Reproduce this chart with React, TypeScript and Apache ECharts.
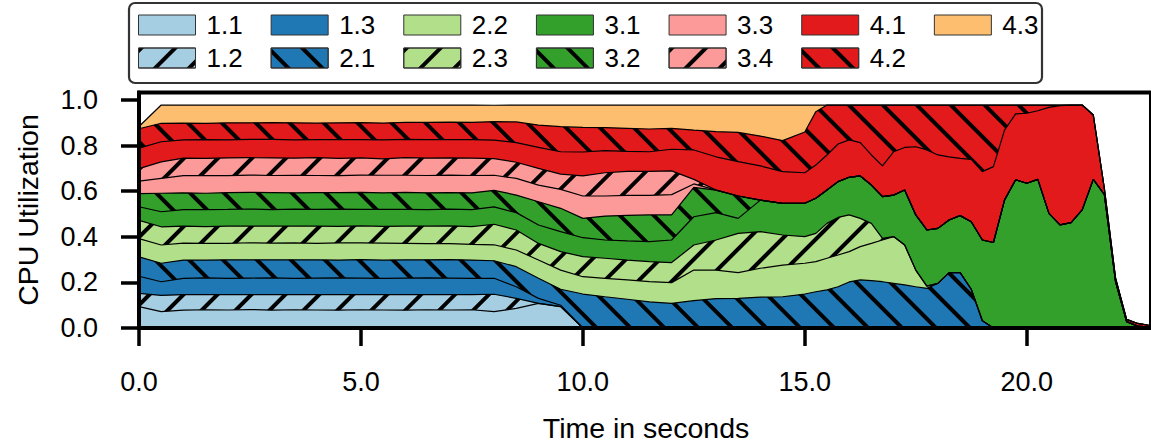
import React, { useEffect, useRef } from "react";
import * as echarts from "echarts";

// Time stamps (seconds)
const times = [
  0, 0.5, 1, 1.5, 2, 2.5, 3, 3.5, 4, 4.5, 5, 5.5, 6, 6.5, 7, 7.5, 8, 8.5, 9, 9.5, 10, 10.5, 11, 11.5, 12, 12.5, 13, 13.5, 14, 14.5, 15,
  15.25, 15.5, 15.75, 16, 16.25, 16.5, 16.75, 17, 17.25, 17.5, 17.75, 18, 18.25, 18.5, 18.75, 19, 19.25, 19.5, 19.75, 20, 20.25, 20.5, 20.75, 21, 21.25, 21.5, 21.75, 22, 22.25, 22.5, 22.75,
];

// Per-task CPU utilisation (thickness of each stacked layer)
const u11 = [
  0.094, 0.072, 0.078, 0.08, 0.079, 0.081, 0.078, 0.08, 0.079, 0.078, 0.08, 0.079, 0.078, 0.08, 0.079, 0.08, 0.072, 0.086, 0.108, 0.094, 0, 0, 0, 0, 0, 0, 0, 0, 0, 0, 0,
  0, 0, 0, 0, 0, 0, 0, 0, 0, 0, 0, 0, 0, 0, 0, 0, 0, 0, 0, 0, 0, 0, 0, 0, 0, 0, 0, 0, 0, 0, 0,
];
const u12 = [
  0.058, 0.071, 0.068, 0.066, 0.067, 0.065, 0.068, 0.066, 0.067, 0.068, 0.066, 0.067, 0.068, 0.066, 0.067, 0.066, 0.076, 0.044, 0, 0, 0, 0, 0, 0, 0, 0, 0, 0, 0, 0, 0,
  0, 0, 0, 0, 0, 0, 0, 0, 0, 0, 0, 0, 0, 0, 0, 0, 0, 0, 0, 0, 0, 0, 0, 0, 0, 0, 0, 0, 0, 0, 0,
];
const u13 = [
  0.075, 0.06, 0.072, 0.074, 0.072, 0.073, 0.074, 0.072, 0.073, 0.074, 0.073, 0.072, 0.073, 0.074, 0.073, 0.072, 0.07, 0.051, 0.022, 0.006, 0, 0, 0, 0, 0, 0, 0, 0, 0, 0, 0,
  0, 0, 0, 0, 0, 0, 0, 0, 0, 0, 0, 0, 0, 0, 0, 0, 0, 0, 0, 0, 0, 0, 0, 0, 0, 0, 0, 0, 0, 0, 0,
];
const u21 = [
  0.085, 0.081, 0.08, 0.078, 0.081, 0.08, 0.079, 0.081, 0.08, 0.078, 0.081, 0.08, 0.08, 0.079, 0.081, 0.08, 0.077, 0.088, 0.088, 0.07, 0.149, 0.137, 0.126, 0.115, 0.108, 0.12, 0.129, 0.13, 0.135, 0.137, 0.149,
  0.159, 0.167, 0.181, 0.202, 0.211, 0.208, 0.203, 0.196, 0.189, 0.181, 0.174, 0.196, 0.243, 0.243, 0.17, 0.032, 0, 0, 0, 0, 0, 0, 0, 0, 0, 0, 0, 0, 0, 0, 0,
];
const u22 = [
  0.08, 0.08, 0.074, 0.073, 0.072, 0.075, 0.073, 0.074, 0.072, 0.075, 0.073, 0.074, 0.072, 0.071, 0.07, 0.069, 0.07, 0.073, 0.08, 0.084, 0.076, 0.081, 0.085, 0.088, 0.091, 0.134, 0.125, 0.113, 0.127, 0.139, 0.135,
  0.132, 0.139, 0.139, 0.133, 0.146, 0.163, 0.183, 0.205, 0.175, 0.073, 0.01, 0, 0, 0, 0, 0, 0, 0, 0, 0, 0, 0, 0, 0, 0, 0, 0, 0, 0, 0, 0,
];
const u23 = [
  0.08, 0.08, 0.075, 0.074, 0.076, 0.073, 0.075, 0.074, 0.076, 0.073, 0.075, 0.074, 0.076, 0.077, 0.078, 0.078, 0.09, 0.088, 0.073, 0.081, 0.088, 0.088, 0.087, 0.088, 0.088, 0.11, 0.132, 0.172, 0.161, 0.132, 0.117,
  0.124, 0.153, 0.165, 0.161, 0.124, 0.088, 0.007, 0, 0, 0, 0, 0, 0, 0, 0, 0, 0, 0, 0, 0, 0, 0, 0, 0, 0, 0, 0, 0, 0, 0, 0,
];
const u31 = [
  0.06, 0.066, 0.072, 0.074, 0.073, 0.075, 0.072, 0.074, 0.073, 0.075, 0.072, 0.074, 0.073, 0.072, 0.073, 0.074, 0.076, 0.076, 0.081, 0.088, 0.083, 0.08, 0.084, 0.088, 0.099, 0.124, 0.12, 0.066, 0.138, 0.139, 0.146,
  0.154, 0.146, 0.157, 0.165, 0.186, 0.168, 0.183, 0.182, 0.241, 0.242, 0.246, 0.241, 0.231, 0.25, 0.296, 0.354, 0.375, 0.561, 0.65, 0.635, 0.652, 0.503, 0.452, 0.462, 0.518, 0.652, 0.585, 0.205, 0.028, 0.008, 0.004,
];
const u32 = [
  0.057, 0.081, 0.074, 0.072, 0.074, 0.073, 0.075, 0.072, 0.074, 0.073, 0.075, 0.073, 0.075, 0.074, 0.073, 0.074, 0.073, 0.077, 0.102, 0.102, 0.085, 0.105, 0.112, 0.117, 0.11, 0.129, 0.099, 0.098, 0, 0, 0,
  0, 0, 0, 0, 0, 0, 0, 0, 0, 0, 0, 0, 0, 0, 0, 0, 0, 0, 0, 0, 0, 0, 0, 0, 0, 0, 0, 0, 0, 0, 0,
];
const u33 = [
  0.055, 0.065, 0.075, 0.077, 0.074, 0.076, 0.075, 0.077, 0.075, 0.074, 0.076, 0.077, 0.075, 0.076, 0.077, 0.076, 0.066, 0.073, 0.073, 0.083, 0.098, 0.088, 0.088, 0.086, 0.089, 0.015, 0, 0, 0, 0, 0,
  0, 0, 0, 0, 0, 0, 0, 0, 0, 0, 0, 0, 0, 0, 0, 0, 0, 0, 0, 0, 0, 0, 0, 0, 0, 0, 0, 0, 0, 0, 0,
];
const u34 = [
  0.055, 0.073, 0.077, 0.076, 0.078, 0.076, 0.077, 0.075, 0.078, 0.076, 0.075, 0.072, 0.077, 0.076, 0.075, 0.076, 0.073, 0.071, 0.073, 0.067, 0.088, 0.102, 0.105, 0.105, 0.104, 0.02, 0, 0, 0, 0, 0,
  0, 0, 0, 0, 0, 0, 0, 0, 0, 0, 0, 0, 0, 0, 0, 0, 0, 0, 0, 0, 0, 0, 0, 0, 0, 0, 0, 0, 0, 0, 0,
];
const u41 = [
  0.09, 0.088, 0.08, 0.082, 0.079, 0.08, 0.081, 0.08, 0.079, 0.082, 0.08, 0.083, 0.08, 0.081, 0.08, 0.081, 0.081, 0.086, 0.092, 0.098, 0.105, 0.097, 0.088, 0.086, 0.095, 0.129, 0.146, 0.151, 0.15, 0.139, 0.134,
  0.146, 0.154, 0.165, 0.164, 0.146, 0.132, 0.135, 0.19, 0.187, 0.299, 0.351, 0.322, 0.277, 0.251, 0.274, 0.3, 0.333, 0.307, 0.289, 0.307, 0.301, 0.465, 0.523, 0.516, 0.46, 0.282, 0.025, 0.015, 0.01, 0.012, 0.008,
];
const u42 = [
  0.085, 0.081, 0.074, 0.072, 0.075, 0.073, 0.074, 0.075, 0.073, 0.074, 0.075, 0.074, 0.075, 0.076, 0.077, 0.076, 0.081, 0.091, 0.098, 0.11, 0.108, 0.101, 0.101, 0.1, 0.092, 0.087, 0.11, 0.128, 0.131, 0.136, 0.179,
  0.234, 0.219, 0.171, 0.153, 0.165, 0.219, 0.267, 0.205, 0.186, 0.183, 0.197, 0.219, 0.227, 0.234, 0.238, 0.292, 0.27, 0.11, 0.039, 0.036, 0.025, 0.01, 0.003, 0, 0, 0, 0, 0, 0, 0, 0,
];
const u43 = [
  0.01, 0.08, 0.079, 0.08, 0.078, 0.078, 0.077, 0.078, 0.079, 0.078, 0.077, 0.079, 0.076, 0.076, 0.075, 0.076, 0.072, 0.074, 0.088, 0.095, 0.098, 0.099, 0.102, 0.105, 0.102, 0.11, 0.117, 0.12, 0.136, 0.156, 0.118,
  0.029, 0, 0, 0, 0, 0, 0, 0, 0, 0, 0, 0, 0, 0, 0, 0, 0, 0, 0, 0, 0, 0, 0, 0, 0, 0, 0, 0, 0, 0, 0,
];

const layerNames = ["1.1", "1.2", "1.3", "2.1", "2.2", "2.3", "3.1", "3.2", "3.3", "3.4", "4.1", "4.2", "4.3"];
const layerValues = [u11, u12, u13, u21, u22, u23, u31, u32, u33, u34, u41, u42, u43];
const layerColors = [
  "#a6cee3", "#a6cee3", "#1f78b4", "#1f78b4", "#b2df8a", "#b2df8a",
  "#33a02c", "#33a02c", "#fb9a99", "#fb9a99", "#e31a1c", "#e31a1c", "#fdbf6f",
];
const layerHatch = ["", "/", "", "\\", "", "/", "", "\\", "", "/", "", "\\", ""];

const legendRow1 = ["1.1", "1.3", "2.2", "3.1", "3.3", "4.1", "4.3"];
const legendRow2 = ["1.2", "2.1", "2.3", "3.2", "3.4", "4.2"];

const xTicks = [0, 5, 10, 15, 20];
const yTicks = [0, 0.2, 0.4, 0.6, 0.8, 1.0];

const FONT = '"Liberation Sans", Arial, Helvetica, sans-serif';

function makeDecal(h: string): any {
  if (!h) return undefined;
  return {
    symbol: "rect",
    symbolSize: 1,
    dashArrayX: [1, 0],
    dashArrayY: [4, 20],
    rotation: h === "/" ? -Math.PI / 4 : Math.PI / 4,
    color: "#000",
  };
}

export default function App() {
  const ref = useRef<HTMLDivElement>(null);

  useEffect(() => {
    if (!ref.current) return;
    const chart = echarts.init(ref.current, undefined, { renderer: "svg" });

    // cumulative tops of each stacked layer
    const cumulative: number[][] = [];
    let running = times.map(() => 0);
    layerValues.forEach((vals) => {
      running = running.map((r, i) => Math.round((r + vals[i]) * 10000) / 10000);
      cumulative.push(running);
    });

    const series: any[] = [];
    for (let k = layerNames.length - 1; k >= 0; k--) {
      const c = layerColors[k];
      series.push({
        name: layerNames[k],
        type: "line",
        data: times.map((t, i) => [t, cumulative[k][i]]),
        symbol: "none",
        showSymbol: false,
        silent: true,
        z: 2,
        lineStyle: { color: "#000", width: 1.2, decal: makeDecal(layerHatch[k]) },
        itemStyle: { color: c, decal: makeDecal(layerHatch[k]) },
        areaStyle: { color: c, opacity: 1, origin: "start" },
      });
    }

    const legendItem = (n: string) => {
      const k = layerNames.indexOf(n);
      return {
        name: n,
        icon: "rect",
        itemStyle: {
          color: layerColors[k],
          borderColor: "#333",
          borderWidth: 1,
          decal: makeDecal(layerHatch[k]),
        },
      };
    };
    const legendBase = {
      left: 138,
      orient: "horizontal",
      itemWidth: 57,
      itemHeight: 20,
      itemGap: 28,
      padding: 0,
      selectedMode: false,
      textStyle: { fontSize: 26, color: "#000", fontFamily: FONT, padding: [0, 0, 0, 6] },
    };

    chart.setOption({
      animation: false,
      textStyle: { fontFamily: FONT },
      grid: {
        left: 139,
        top: 92.5,
        width: 1017,
        height: 235.5,
        show: true,
        borderColor: "#000",
        borderWidth: 4,
        backgroundColor: "transparent",
      },
      legend: [
        { ...legendBase, top: 12, data: legendRow1.map(legendItem) },
        { ...legendBase, top: 45, data: legendRow2.map(legendItem) },
      ],
      xAxis: {
        type: "value",
        min: 0,
        max: 22.8,
        z: 10,
        axisLine: { show: true, onZero: false, lineStyle: { color: "#000", width: 4 } },
        axisTick: { show: true, length: 18, lineStyle: { color: "#000", width: 3.5 }, customValues: xTicks },
        axisLabel: {
          customValues: xTicks,
          margin: 40,
          fontSize: 27,
          color: "#000",
          fontFamily: FONT,
          formatter: (v: number) => v.toFixed(1),
        },
        splitLine: { show: false },
      },
      yAxis: {
        type: "value",
        min: 0,
        max: 1.033,
        z: 10,
        axisLine: { show: true, lineStyle: { color: "#000", width: 4 } },
        axisTick: { show: true, length: 18, lineStyle: { color: "#000", width: 3.5 }, customValues: yTicks },
        axisLabel: {
          customValues: yTicks,
          margin: 41,
          fontSize: 27,
          color: "#000",
          fontFamily: FONT,
          formatter: (v: number) => v.toFixed(1),
        },
        splitLine: { show: false },
      },
      graphic: [
        {
          type: "rect",
          z: -1,
          shape: { x: 129, y: 3, width: 913, height: 80, r: 6 },
          style: { fill: "#fff", stroke: "#333", lineWidth: 2.2 },
        },
        {
          type: "text",
          x: 646,
          y: 428,
          style: {
            text: "Time in seconds",
            fontSize: 28.5,
            fontFamily: FONT,
            fill: "#000",
            align: "center",
            verticalAlign: "middle",
          },
        },
        {
          type: "text",
          x: 28,
          y: 210,
          rotation: Math.PI / 2,
          style: {
            text: "CPU Utilization",
            fontSize: 28.5,
            fontFamily: FONT,
            fill: "#000",
            align: "center",
            verticalAlign: "middle",
          },
        },
      ],
      series,
    });

    return () => chart.dispose();
  }, []);

  return (
    <div
      ref={ref}
      style={{ position: "fixed", left: 0, top: 0, width: 1151, height: 445, background: "#fff" }}
    />
  );
}
